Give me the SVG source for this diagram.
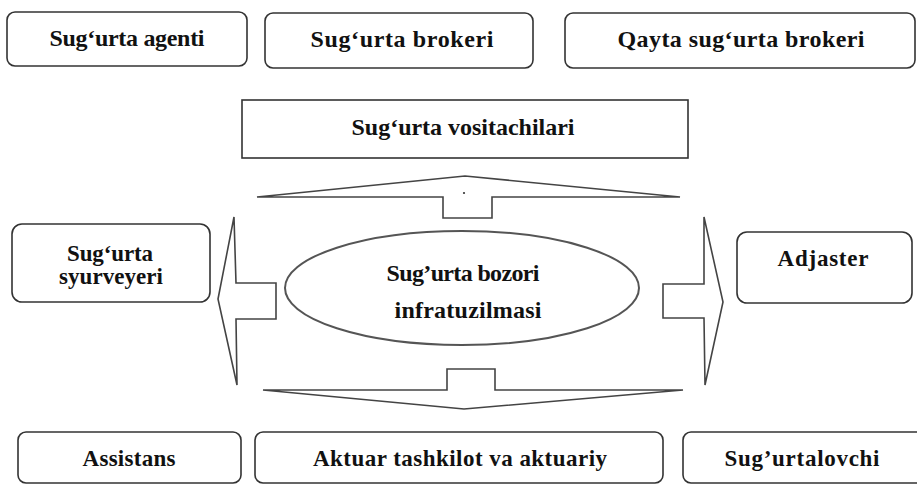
<svg xmlns="http://www.w3.org/2000/svg" width="917" height="485" viewBox="0 0 917 485">
<style>
.box{fill:#fff;stroke:#333;stroke-width:1.6}
.arr{fill:#fff;stroke:#444;stroke-width:1.6;stroke-linejoin:miter}
.t{font-family:"Liberation Serif","Times New Roman",serif;font-weight:bold;font-size:24px;fill:#111;text-anchor:middle}
.s{font-size:23px}
</style>
<rect width="917" height="485" fill="#fff"/>
<g id="connectors">
<polygon class="arr" points="443,218 443,197 257,197 465,176 680,197 492,197 492,218"/>
<circle cx="464" cy="193" r="1.1" fill="#333"/>
<polygon class="arr" points="447,390 447,369 495,369 495,390 683,390 464,409 263,390"/>
<polygon class="arr" points="234,217 236,283 276,283 276,319 236,319 237,385 218,299"/>
<polygon class="arr" points="704,217 704,284 663,284 663,318 704,318 705,385 723,302"/>
</g>
<g id="agent"><rect class="box" x="7" y="12" width="240" height="54" rx="8"/><text class="t" x="127" y="46" textLength="155" lengthAdjust="spacing">Sug‘urta agenti</text></g>
<g id="broker"><rect class="box" x="265" y="13" width="268" height="55" rx="8"/><text class="t" x="402" y="47" textLength="183" lengthAdjust="spacing">Sug‘urta brokeri</text></g>
<g id="reinsurance-broker"><rect class="box" x="565" y="13" width="350" height="55" rx="8"/><text class="t" x="741" y="47" textLength="247" lengthAdjust="spacing">Qayta sug‘urta brokeri</text></g>
<g id="intermediaries"><rect class="box" x="242" y="100" width="446" height="58"/><text class="t" x="463" y="135" textLength="223" lengthAdjust="spacing">Sug‘urta vositachilari</text></g>
<g id="surveyor"><rect class="box" x="12" y="224" width="198" height="78" rx="10"/><text class="t s" x="110" y="261" textLength="86" lengthAdjust="spacing">Sug‘urta</text><text class="t s" x="111" y="284" textLength="104" lengthAdjust="spacing">syurveyeri</text></g>
<g id="center"><ellipse cx="462" cy="288" rx="177" ry="57" fill="#fff" stroke="#555" stroke-width="2"/><text class="t" x="463" y="281" textLength="153" lengthAdjust="spacing">Sug’urta bozori</text><text class="t" x="468" y="318" textLength="147" lengthAdjust="spacing">infratuzilmasi</text></g>
<g id="adjuster"><rect class="box" x="737" y="232" width="175" height="71" rx="10"/><text class="t s" x="823" y="266" textLength="91" lengthAdjust="spacing">Adjaster</text></g>
<g id="assistance"><rect class="box" x="18" y="432" width="223" height="51" rx="8"/><text class="t s" x="129" y="466" textLength="93" lengthAdjust="spacing">Assistans</text></g>
<g id="actuary"><rect class="box" x="255" y="432" width="408" height="51" rx="8"/><text class="t s" x="460" y="466" textLength="294" lengthAdjust="spacing">Aktuar tashkilot va aktuariy</text></g>
<g id="insurer"><rect class="box" x="683" y="432" width="250" height="51" rx="8"/><text class="t s" x="802" y="466" textLength="155" lengthAdjust="spacing">Sug’urtalovchi</text></g>
</svg>
